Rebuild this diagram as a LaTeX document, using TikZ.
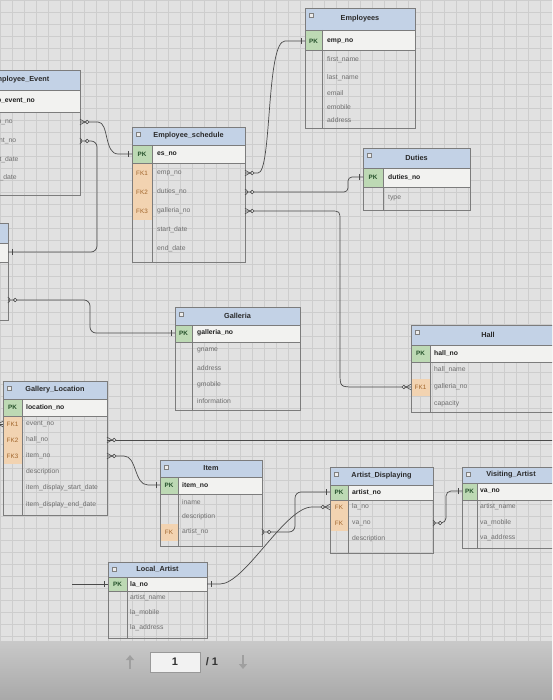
\documentclass[tikz,border=0pt]{standalone}
\usepackage{fontspec}
\setmainfont{Liberation Sans}
\usetikzlibrary{decorations.markings,arrows.meta}
\definecolor{bgc}{HTML}{E1E1E1}
\definecolor{gridc}{HTML}{CDCDCD}
\definecolor{hdrc}{HTML}{C3D2E6}
\definecolor{pkrowc}{HTML}{F2F2F0}
\definecolor{pkcellc}{HTML}{BDD9B4}
\definecolor{fkcellc}{HTML}{F2D3B1}
\definecolor{tblc}{HTML}{7C7C7C}
\definecolor{fldc}{HTML}{6E6E6E}
\definecolor{pkfc}{HTML}{1F1F1F}
\definecolor{ttlc}{HTML}{2A2A2A}
\definecolor{pklc}{HTML}{24502A}
\definecolor{fklc}{HTML}{A0642A}
\definecolor{relc}{HTML}{4A4A4A}
\definecolor{barc}{HTML}{C6C6C6}
\newcommand{\ertab}[9]{%
  \fill[hdrc] (#2,#4) rectangle (#3,#5);
  \fill[pkrowc] (#2,#5) rectangle (#3,#6);
  \fill[pkcellc] (#2,#5) rectangle (#8,#6);
  \draw[tbl] (#2,#4) rectangle (#3,#7);
  \draw[tbl] (#2,#5) -- (#3,#5);
  \draw[tbl,line width=0.9pt] (#2,#6) -- (#3,#6);
  \draw[tbl] (#8,#5) -- (#8,#7);
  \draw[icon] ({#2+4},{#4+5}) rectangle ({#2+8},{#4+9});
  \node[ttl] (#1-t) at ({(#2+#3)/2},{(#4+#5)/2}) {#9};
}
\begin{document}
\begin{tikzpicture}[x=1pt,y=-1pt,
  tbl/.style={draw=tblc,line width=0.6pt},
  icon/.style={draw=gray,fill=white!85!gray,line width=0.4pt},
  gridl/.style={draw=gridc,line width=0.35pt},
  ttl/.style={font=\fontsize{7.3}{8}\selectfont\bfseries,text=ttlc,inner sep=0pt},
  fld/.style={anchor=west,inner sep=0pt,font=\fontsize{6.8}{8}\selectfont,text=fldc},
  pkf/.style={fld,font=\fontsize{6.8}{8}\selectfont\bfseries,text=pkfc},
  pkl/.style={inner sep=0pt,font=\fontsize{6.3}{7}\selectfont\bfseries,text=pklc},
  fkl/.style={inner sep=0pt,font=\fontsize{6.3}{7}\selectfont,text=fklc},
  rel/.style={draw=relc,line width=0.7pt},
  many start/.style={postaction={decorate,decoration={markings,mark=at position 0 with {\draw[relc,line width=0.6pt] (0,2.8pt)--(5pt,0)--(0,-2.8pt); \draw[relc,fill=bgc,line width=0.6pt] (7.2pt,0) circle (1.8pt);}}}},
  many end/.style={postaction={decorate,decoration={markings,mark=at position 1 with {\draw[relc,line width=0.6pt] (0,2.8pt)--(-5pt,0)--(0,-2.8pt); \draw[relc,fill=bgc,line width=0.6pt] (-7.2pt,0) circle (1.8pt);}}}},
  one end/.style={postaction={decorate,decoration={markings,mark=at position 1 with {\draw[relc,line width=0.7pt] (-4pt,-3pt)--(-4pt,3pt);}}}},
  navarr/.style={draw=gray!75,line width=2.4pt,-{Triangle[width=8pt,length=5pt]}}
]
\useasboundingbox (0,0) rectangle (552,700);
\clip (0,0) rectangle (552,700);
\fill[bgc] (0,0) rectangle (552,641);
\foreach \gx in {0,12,...,552} { \draw[gridl] (\gx,0) -- (\gx,641); }
\foreach \gy in {0,12,...,636} { \draw[gridl] (0,\gy) -- (552,\gy); }

% ---------- Employees
\ertab{emp}{305}{415}{8}{30}{50}{128}{322}{Employees}
\node[pkl] (emp-k0) at (313.5,41) {PK};
\node[pkf] (emp-f0) at (327,41) {emp\_no};
\node[fld] (emp-f1) at (327,60) {first\_name};
\node[fld] (emp-f2) at (327,78) {last\_name};
\node[fld] (emp-f3) at (327,93) {email};
\node[fld] (emp-f4) at (327,107) {emobile};
\node[fld] (emp-f5) at (327,120) {address};

% ---------- Employee_Event (cut at left)
\ertab{ee}{-40}{80}{70}{90}{112}{195}{-22}{Employee\_Event}
\node[pkf] (ee-f0) at (-13,101) {emp\_event\_no};
\node[fld] (ee-f1) at (-12,122) {emp\_no};
\node[fld] (ee-f2) at (-12,141) {event\_no};
\node[fld] (ee-f3) at (-12,160) {start\_date};
\node[fld] (ee-f4) at (-12,178) {end\_date};

% ---------- table cut at left edge
\ertab{ev}{-70}{8}{223}{243}{262}{320}{-50}{}

% ---------- Employee_schedule
\fill[fkcellc] (132,163) rectangle (152,220);
\ertab{es}{132}{245}{127}{145}{163}{262}{152}{Employee\_schedule}
\node[pkl] (es-k0) at (142,154) {PK};
\node[fkl] (es-k1) at (142,173) {FK1};
\node[fkl] (es-k2) at (142,192) {FK2};
\node[fkl] (es-k3) at (142,211) {FK3};
\node[pkf] (es-f0) at (157,154) {es\_no};
\node[fld] (es-f1) at (157,173) {emp\_no};
\node[fld] (es-f2) at (157,192) {duties\_no};
\node[fld] (es-f3) at (157,211) {galleria\_no};
\node[fld] (es-f4) at (157,230) {start\_date};
\node[fld] (es-f5) at (157,249) {end\_date};

% ---------- Duties
\ertab{du}{363}{470}{148}{168}{187}{210}{383}{Duties}
\node[pkl] (du-k0) at (373,177) {PK};
\node[pkf] (du-f0) at (388,177) {duties\_no};
\node[fld] (du-f1) at (388,198) {type};

% ---------- Galleria
\ertab{ga}{175}{300}{307}{325}{342}{410}{192}{Galleria}
\node[pkl] (ga-k0) at (183.5,333) {PK};
\node[pkf] (ga-f0) at (197,333) {galleria\_no};
\node[fld] (ga-f1) at (197,350) {gname};
\node[fld] (ga-f2) at (197,368) {address};
\node[fld] (ga-f3) at (197,385) {gmobile};
\node[fld] (ga-f4) at (197,401) {information};

% ---------- Hall
\fill[fkcellc] (411,379) rectangle (430,396);
\ertab{ha}{411}{565}{325}{345}{362}{412}{430}{Hall}
\node[pkl] (ha-k0) at (420.5,353) {PK};
\node[fkl] (ha-k1) at (420.5,387) {FK1};
\node[pkf] (ha-f0) at (434,353) {hall\_no};
\node[fld] (ha-f1) at (434,370) {hall\_name};
\node[fld] (ha-f2) at (434,387) {galleria\_no};
\node[fld] (ha-f3) at (434,404) {capacity};

% ---------- Gallery_Location
\fill[fkcellc] (3,416) rectangle (22,464);
\ertab{gl}{3}{107}{381}{399}{416}{515}{22}{Gallery\_Location}
\node[pkl] (gl-k0) at (12.5,407) {PK};
\node[fkl] (gl-k1) at (12.5,424) {FK1};
\node[fkl] (gl-k2) at (12.5,440) {FK2};
\node[fkl] (gl-k3) at (12.5,456) {FK3};
\node[pkf] (gl-f0) at (26,407) {location\_no};
\node[fld] (gl-f1) at (26,424) {event\_no};
\node[fld] (gl-f2) at (26,440) {hall\_no};
\node[fld] (gl-f3) at (26,456) {item\_no};
\node[fld] (gl-f4) at (26,472) {description};
\node[fld] (gl-f5) at (26,488) {item\_display\_start\_date};
\node[fld] (gl-f6) at (26,505) {item\_display\_end\_date};

% ---------- Item
\fill[fkcellc] (160,524) rectangle (178,541);
\ertab{it}{160}{262}{460}{477}{494}{546}{178}{Item}
\node[pkl] (it-k0) at (169,485) {PK};
\node[fkl] (it-k1) at (169,532) {FK};
\node[pkf] (it-f0) at (182,485) {item\_no};
\node[fld] (it-f1) at (182,502) {iname};
\node[fld] (it-f2) at (182,517) {description};
\node[fld] (it-f3) at (182,532) {artist\_no};

% ---------- Artist_Displaying
\fill[fkcellc] (330,500) rectangle (348,531);
\ertab{ad}{330}{433}{467}{485}{500}{553}{348}{Artist\_Displaying}
\node[pkl] (ad-k0) at (339,492) {PK};
\node[fkl] (ad-k1) at (339,507) {FK};
\node[fkl] (ad-k2) at (339,523) {FK};
\node[pkf] (ad-f0) at (352,492) {artist\_no};
\node[fld] (ad-f1) at (352,507) {la\_no};
\node[fld] (ad-f2) at (352,523) {va\_no};
\node[fld] (ad-f3) at (352,539) {description};

% ---------- Visiting_Artist
\ertab{va}{462}{560}{467}{483}{500}{548}{477}{Visiting\_Artist}
\node[pkl] (va-k0) at (469.5,491) {PK};
\node[pkf] (va-f0) at (480,491) {va\_no};
\node[fld] (va-f1) at (480,507) {artist\_name};
\node[fld] (va-f2) at (480,523) {va\_mobile};
\node[fld] (va-f3) at (480,538) {va\_address};

% ---------- Local_Artist
\ertab{la}{108}{207}{562}{577}{591}{638}{127}{Local\_Artist}
\node[pkl] (la-k0) at (117.5,584) {PK};
\node[pkf] (la-f0) at (130,584) {la\_no};
\node[fld] (la-f1) at (130,598) {artist\_name};
\node[fld] (la-f2) at (130,613) {la\_mobile};
\node[fld] (la-f3) at (130,628) {la\_address};

% ---------- connector end points
\coordinate (ee-emp-r) at (80,122);
\coordinate (ee-ev-r) at (80,141);
\coordinate (ev-pk-r) at (8,252);
\coordinate (ev-ga-r) at (8,300);
\coordinate (es-pk-l) at (132,154);
\coordinate (es-emp-r) at (245,173);
\coordinate (es-du-r) at (245,192);
\coordinate (es-ga-r) at (245,211);
\coordinate (emp-pk-l) at (305,41);
\coordinate (du-pk-l) at (363,177);
\coordinate (ga-pk-l) at (175,333);
\coordinate (ha-ga-l) at (411,387);
\coordinate (gl-ev-l) at (3,424);
\coordinate (off-l) at (-30,424);
\coordinate (gl-ha-r) at (107,440);
\coordinate (off-r) at (590,440);
\coordinate (gl-it-r) at (107,456);
\coordinate (it-pk-l) at (160,485);
\coordinate (it-ar-r) at (262,532);
\coordinate (ad-pk-l) at (330,492);
\coordinate (ad-la-l) at (330,507);
\coordinate (la-pk-r) at (207,584);
\coordinate (la-pk-l) at (108,584);
\coordinate (la-in) at (72,584);
\coordinate (ad-va-r) at (433,523);
\coordinate (va-pk-l) at (462,491);

% ---------- connectors
\draw[rel,many start,one end] (ee-emp-r) -- (98,122) .. controls (109,122) and (104,154) .. (118,154) -- (es-pk-l);
\draw[rel,many start,one end,rounded corners=6pt] (ee-ev-r) -- (97,141) -- (97,252) -- (ev-pk-r);
\draw[rel,many start,one end] (es-emp-r) -- (258,173) .. controls (272,173) and (266,41) .. (285,41) -- (emp-pk-l);
\draw[rel,many start,one end,rounded corners=4pt] (es-du-r) -- (348,192) -- (348,177) -- (du-pk-l);
\draw[rel,many start,many end] (es-ga-r) -- (330,211) .. controls (340,211) .. (340,221) -- (340,372) .. controls (340,387) .. (355,387) -- (ha-ga-l);
\draw[rel,many start,one end,rounded corners=6pt] (ev-ga-r) -- (90,300) -- (90,333) -- (ga-pk-l);
\draw[rel,many start] (gl-ev-l) -- (off-l);
\draw[rel,many start] (gl-ha-r) -- (off-r);
\draw[rel,many start,one end] (gl-it-r) -- (124,456) .. controls (137,456) and (134,485) .. (148,485) -- (it-pk-l);
\draw[rel,many start,one end,rounded corners=6pt] (it-ar-r) -- (295,532) -- (295,492) -- (ad-pk-l);
\draw[rel,many start,one end] (ad-la-l) -- (312,507) .. controls (285,507) and (245,584) .. (220,584) -- (la-pk-r);
\draw[rel,many start,one end,rounded corners=5pt] (ad-va-r) -- (446,523) -- (446,491) -- (va-pk-l);
\draw[rel,one end] (la-in) -- (la-pk-l);

% ---------- bottom bar of the viewer
\shade[top color=barc!95!white,bottom color=barc!85!black] (0,641) rectangle (552,700);
\node[draw=gray!80,fill=white!90!gray,minimum width=50pt,minimum height=20pt,inner sep=0pt] (pgbox) at (175,662) {};
\node[font=\fontsize{11}{12}\selectfont\bfseries,text=black!80] (pgnum) at (175,662) {1};
\node[font=\fontsize{11}{12}\selectfont\bfseries,text=black!80] (pgtot) at (212,662) {/ 1};
\draw[navarr] (130,669) -- (130,655);
\draw[navarr] (243,655) -- (243,669);
\end{tikzpicture}
\end{document}
